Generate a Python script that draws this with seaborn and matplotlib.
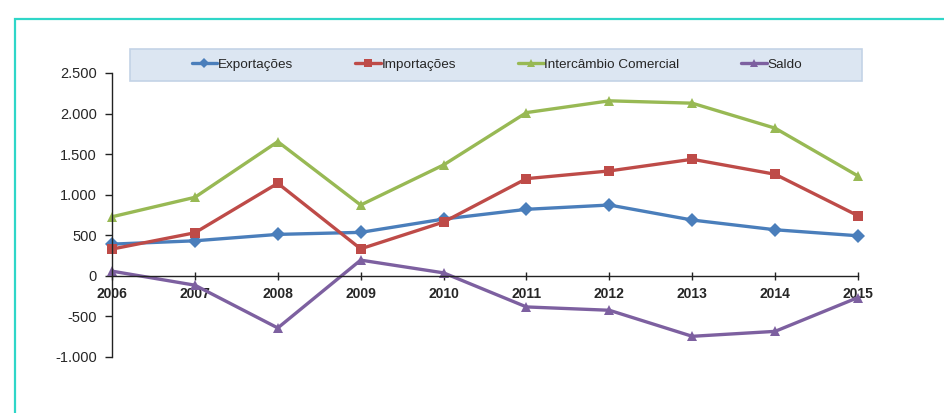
import numpy as np
import pandas as pd
import matplotlib
matplotlib.use("Agg")
import matplotlib.pyplot as plt
import matplotlib.patches as mpatches
from matplotlib.ticker import FuncFormatter
import seaborn as sns

# ---- Data ----
years = [2006, 2007, 2008, 2009, 2010, 2011, 2012, 2013, 2014, 2015]
exportacoes = [391, 432, 511, 536, 700, 820, 873, 688, 568, 494]
importacoes = [330, 531, 1141, 333, 663, 1198, 1293, 1437, 1252, 741]
intercambio = [728, 968, 1654, 873, 1367, 2012, 2157, 2128, 1820, 1231]
saldo = [58, -115, -642, 194, 37, -383, -424, -745, -684, -267]

series_names = ["Exportações", "Importações", "Intercâmbio Comercial", "Saldo"]
series_values = [exportacoes, importacoes, intercambio, saldo]

df = pd.concat(
    [pd.DataFrame({"Ano": years, "Valor": v, "Série": n})
     for n, v in zip(series_names, series_values)],
    ignore_index=True,
)

# ---- Style ----
sns.set_theme(style="white")
plt.rcParams["font.family"] = ["Liberation Sans", "DejaVu Sans"]

palette = {
    "Exportações": "#4a7ebb",
    "Importações": "#be4b48",
    "Intercâmbio Comercial": "#98b954",
    "Saldo": "#7d60a0",
}
markers = {
    "Exportações": "D",
    "Importações": "s",
    "Intercâmbio Comercial": "^",
    "Saldo": "^",
}

fig = plt.figure(figsize=(9.44, 4.13), dpi=100)
ax = fig.add_axes([112 / 944, 1 - 357 / 413, (858 - 112) / 944, (357 - 73) / 413])

sns.lineplot(
    data=df, x="Ano", y="Valor", hue="Série", style="Série",
    hue_order=series_names, style_order=series_names,
    palette=palette, markers=markers, dashes=False,
    linewidth=2.4, markersize=7, markeredgewidth=0,
    ax=ax, clip_on=False,
)

ax.set_xlim(2006, 2015)
ax.set_ylim(-1000, 2500)
ax.set_xticks(years)
ax.set_yticks(np.arange(-1000, 2501, 500))
ax.yaxis.set_major_formatter(
    FuncFormatter(lambda v, p: f"{int(v):,}".replace(",", "."))
)
ax.set_xlabel("")
ax.set_ylabel("")

for s in ["top", "right"]:
    ax.spines[s].set_visible(False)
ax.spines["bottom"].set_position(("data", 0))
for s in ["left", "bottom"]:
    ax.spines[s].set_color("#222222")
    ax.spines[s].set_linewidth(1.0)

ax.tick_params(axis="y", direction="out", length=5, width=1, color="#222222",
               labelsize=10.5, pad=6, left=True)
ax.tick_params(axis="x", direction="inout", length=6, width=1, color="#222222",
               labelsize=10, pad=5, bottom=True)
for lbl in ax.get_xticklabels():
    lbl.set_fontweight("bold")

# ---- Legend (box drawn separately, entries centred inside) ----
fig.patches.append(mpatches.Rectangle(
    (130 / 944, 1 - 81 / 413), (862 - 130) / 944, 32 / 413,
    transform=fig.transFigure, facecolor="#dce6f2",
    edgecolor="#c3d3e6", linewidth=1.2, zorder=1,
))
handles, labels = ax.get_legend_handles_labels()
ax.get_legend().remove()
leg = fig.legend(
    handles, labels, ncol=4, loc="center",
    bbox_to_anchor=(497 / 944, 1 - 65 / 413),
    frameon=False, fontsize=9.7,
    handlelength=1.9, handletextpad=0.05, columnspacing=4.6,
    markerscale=0.8,
)

# ---- Teal outer frame (cut off at right/bottom) ----
fig.patches.append(mpatches.Rectangle(
    (15 / 944, -0.1), 1.2, 1 - 19 / 413 + 0.1,
    transform=fig.transFigure, fill=False,
    edgecolor="#2fd6c8", linewidth=1.6, zorder=0,
))

fig.savefig("out.png", dpi=100)
